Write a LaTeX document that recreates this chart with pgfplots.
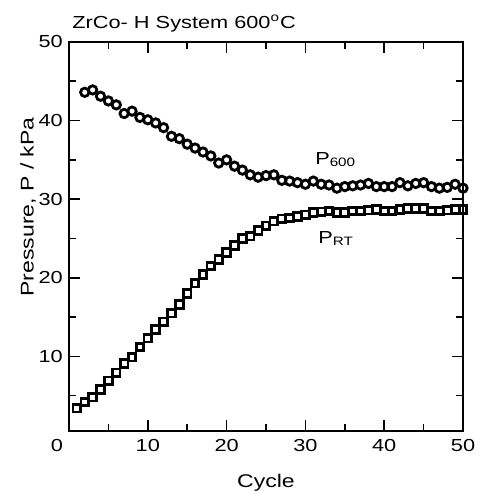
\documentclass[border=0pt]{standalone}
\usepackage{pgfplots}
\pgfplotsset{compat=1.18}
\usepackage{fontspec}
\setmainfont{Liberation Sans}[FakeStretch=1.25]

% Equilibrium pressure at 600 C (circles)
\pgfplotstableread{
cycle p
2 43.6
3 43.9
4 43.1
5 42.5
6 42.0
7 40.9
8 41.2
9 40.4
10 40.1
11 39.7
12 39.1
13 38.0
14 37.7
15 37.0
16 36.5
17 36.0
18 35.5
19 34.6
20 35.0
21 34.2
22 33.7
23 33.1
24 32.8
25 33.0
26 33.1
27 32.4
28 32.3
29 32.1
30 31.9
31 32.3
32 31.9
33 31.8
34 31.4
35 31.6
36 31.7
37 31.8
38 32.0
39 31.6
40 31.6
41 31.6
42 32.1
43 31.7
44 32.0
45 32.1
46 31.6
47 31.4
48 31.5
49 31.9
50 31.4
}\phigh

% Residual pressure at room temperature (squares)
\pgfplotstableread{
cycle p
1 3.4
2 4.2
3 4.8
4 5.8
5 6.9
6 7.9
7 9.1
8 9.9
9 11.2
10 12.3
11 13.4
12 14.4
13 15.5
14 16.6
15 18.0
16 19.3
17 20.4
18 21.5
19 22.3
20 23.2
21 24.1
22 25.0
23 25.3
24 26.0
25 26.6
26 27.2
27 27.5
28 27.6
29 27.8
30 28.0
31 28.3
32 28.4
33 28.5
34 28.3
35 28.3
36 28.5
37 28.5
38 28.6
39 28.7
40 28.5
41 28.5
42 28.7
43 28.8
44 28.8
45 28.8
46 28.5
47 28.5
48 28.6
49 28.7
50 28.7
}\prt

\begin{document}
\fontsize{8.7}{10.5}\selectfont
\begin{tikzpicture}
\begin{axis}[
  name=ax,
  scale only axis,
  width=197pt, height=194.5pt,
  xmin=0, xmax=50, ymin=0.5, ymax=50,
  xtick={10,20,30,40,50},
  extra x ticks={0},
  extra x tick style={xticklabel style={xshift=-6pt}},
  ytick={10,20,30,40,50},
  minor xtick={5,15,25,35,45},
  minor ytick={5,15,25,35,45},
  tick align=inside,
  major tick length=5.5pt,
  minor tick length=3.5pt,
  every tick/.style={black, line width=0.8pt},
  axis line style={line width=1pt},
  /pgf/number format/assume math mode=true,
  tick label style={font=\fontsize{8.7}{10.5}\selectfont},
  xticklabel style={yshift=-1pt},
  xlabel={Cycle},
  ylabel={Pressure, P / kPa},
  label style={font=\fontsize{9.2}{11}\selectfont},
  xlabel style={at={(axis description cs:0.5,0)}, anchor=base, inner sep=0pt, yshift=-28pt},
  ylabel style={at={(axis description cs:-0.104,0.576)}, anchor=center},
  title={ZrCo- H System 600\textsuperscript{o}C},
  title style={at={(axis description cs:0,1)}, anchor=base west, inner sep=0pt,
    xshift=1.5pt, yshift=0.5pt, font=\fontsize{8.7}{10.5}\selectfont},
  clip=false,
]
\addplot[only marks, mark=o, mark size=2.1pt, line width=1.4pt] table[x=cycle, y=p] {\phigh};
\addplot[only marks, mark=square, mark size=1.9pt, line width=1.4pt] table[x=cycle, y=p] {\prt};
\node[anchor=base west, inner sep=0pt] at (axis cs:31.2,34.4) {P\textsubscript{600}};
\node[anchor=base west, inner sep=0pt] at (axis cs:31.6,24.4) {P\textsubscript{RT}};
\end{axis}
\path ([xshift=-34.5pt,yshift=-30pt]ax.south west) rectangle ([xshift=7pt,yshift=21pt]ax.north east);
\end{tikzpicture}
\end{document}
